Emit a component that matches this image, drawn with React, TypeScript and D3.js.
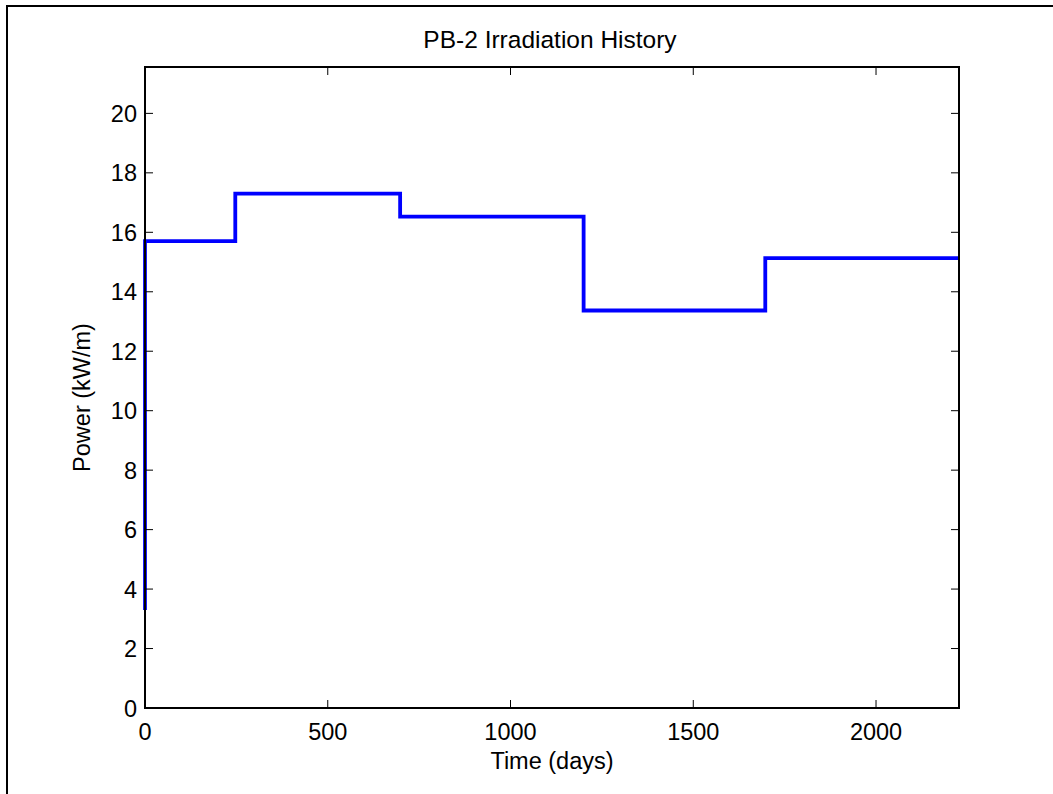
import React from "react";
import * as d3 from "d3";

const stepTimes = [0, 0, 247, 698, 1200, 1697, 2227];
const stepPower = [3.3, 15.7, 17.3, 16.53, 13.37, 15.13, 15.13];
const xTicks = [0, 500, 1000, 1500, 2000];
const yTicks = [0, 2, 4, 6, 8, 10, 12, 14, 16, 18, 20];
const xDomain = [0, 2227];
const yDomain = [0, 21.56];

const W = 1053, H = 794;
const L = 145, R = 959, T = 67, B = 708;
const font = "'Liberation Sans', Arial, sans-serif";
const fs = 23.5;

export default function App() {
  const x = d3.scaleLinear().domain(xDomain).range([L, R]);
  const y = d3.scaleLinear().domain(yDomain).range([B, T]);
  const pts: [number, number][] = stepTimes.map((t, i) => [t, stepPower[i]]);
  const line = d3
    .line<[number, number]>()
    .x((d) => x(d[0]))
    .y((d) => y(d[1]))
    .curve(d3.curveStepAfter);
  const tl = 8;
  return (
    <svg width={W} height={H} style={{ position: "absolute", left: 0, top: 0 }}>
      <rect x={0} y={0} width={W} height={H} fill="#fff" />
      <path d={`M7,${H} V6 H${W}`} fill="none" stroke="#000" strokeWidth={2} />
      <rect x={L} y={T} width={R - L} height={B - T} fill="#fff" />
      <path d={line(pts) || ""} fill="none" stroke="#0000ff" strokeWidth={3.8} strokeLinejoin="miter" />
      {xTicks.map((t) => (
        <g key={"x" + t}>
          <line x1={x(t)} x2={x(t)} y1={B} y2={B - tl} stroke="#000" strokeWidth={1} />
          <line x1={x(t)} x2={x(t)} y1={T} y2={T + tl} stroke="#000" strokeWidth={1} />
          <text x={x(t)} y={B + 32} textAnchor="middle" fontFamily={font} fontSize={fs} fill="#000">
            {t}
          </text>
        </g>
      ))}
      {yTicks.map((t) => (
        <g key={"y" + t}>
          <line x1={L} x2={L + tl} y1={y(t)} y2={y(t)} stroke="#000" strokeWidth={1} />
          <line x1={R} x2={R - tl} y1={y(t)} y2={y(t)} stroke="#000" strokeWidth={1} />
          <text x={L - 8} y={y(t) + 8.5} textAnchor="end" fontFamily={font} fontSize={fs} fill="#000">
            {t}
          </text>
        </g>
      ))}
      <rect x={L} y={T} width={R - L} height={B - T} fill="none" stroke="#000" strokeWidth={2} />
      <text x={550} y={48} textAnchor="middle" fontFamily={font} fontSize={24.5} fill="#000">
        PB-2 Irradiation History
      </text>
      <text x={(L + R) / 2} y={769} textAnchor="middle" fontFamily={font} fontSize={fs} fill="#000">
        Time (days)
      </text>
      <text
        transform={`translate(90,${(T + B) / 2 + 10}) rotate(-90)`}
        textAnchor="middle"
        fontFamily={font}
        fontSize={fs}
        fill="#000"
      >
        Power (kW/m)
      </text>
    </svg>
  );
}
